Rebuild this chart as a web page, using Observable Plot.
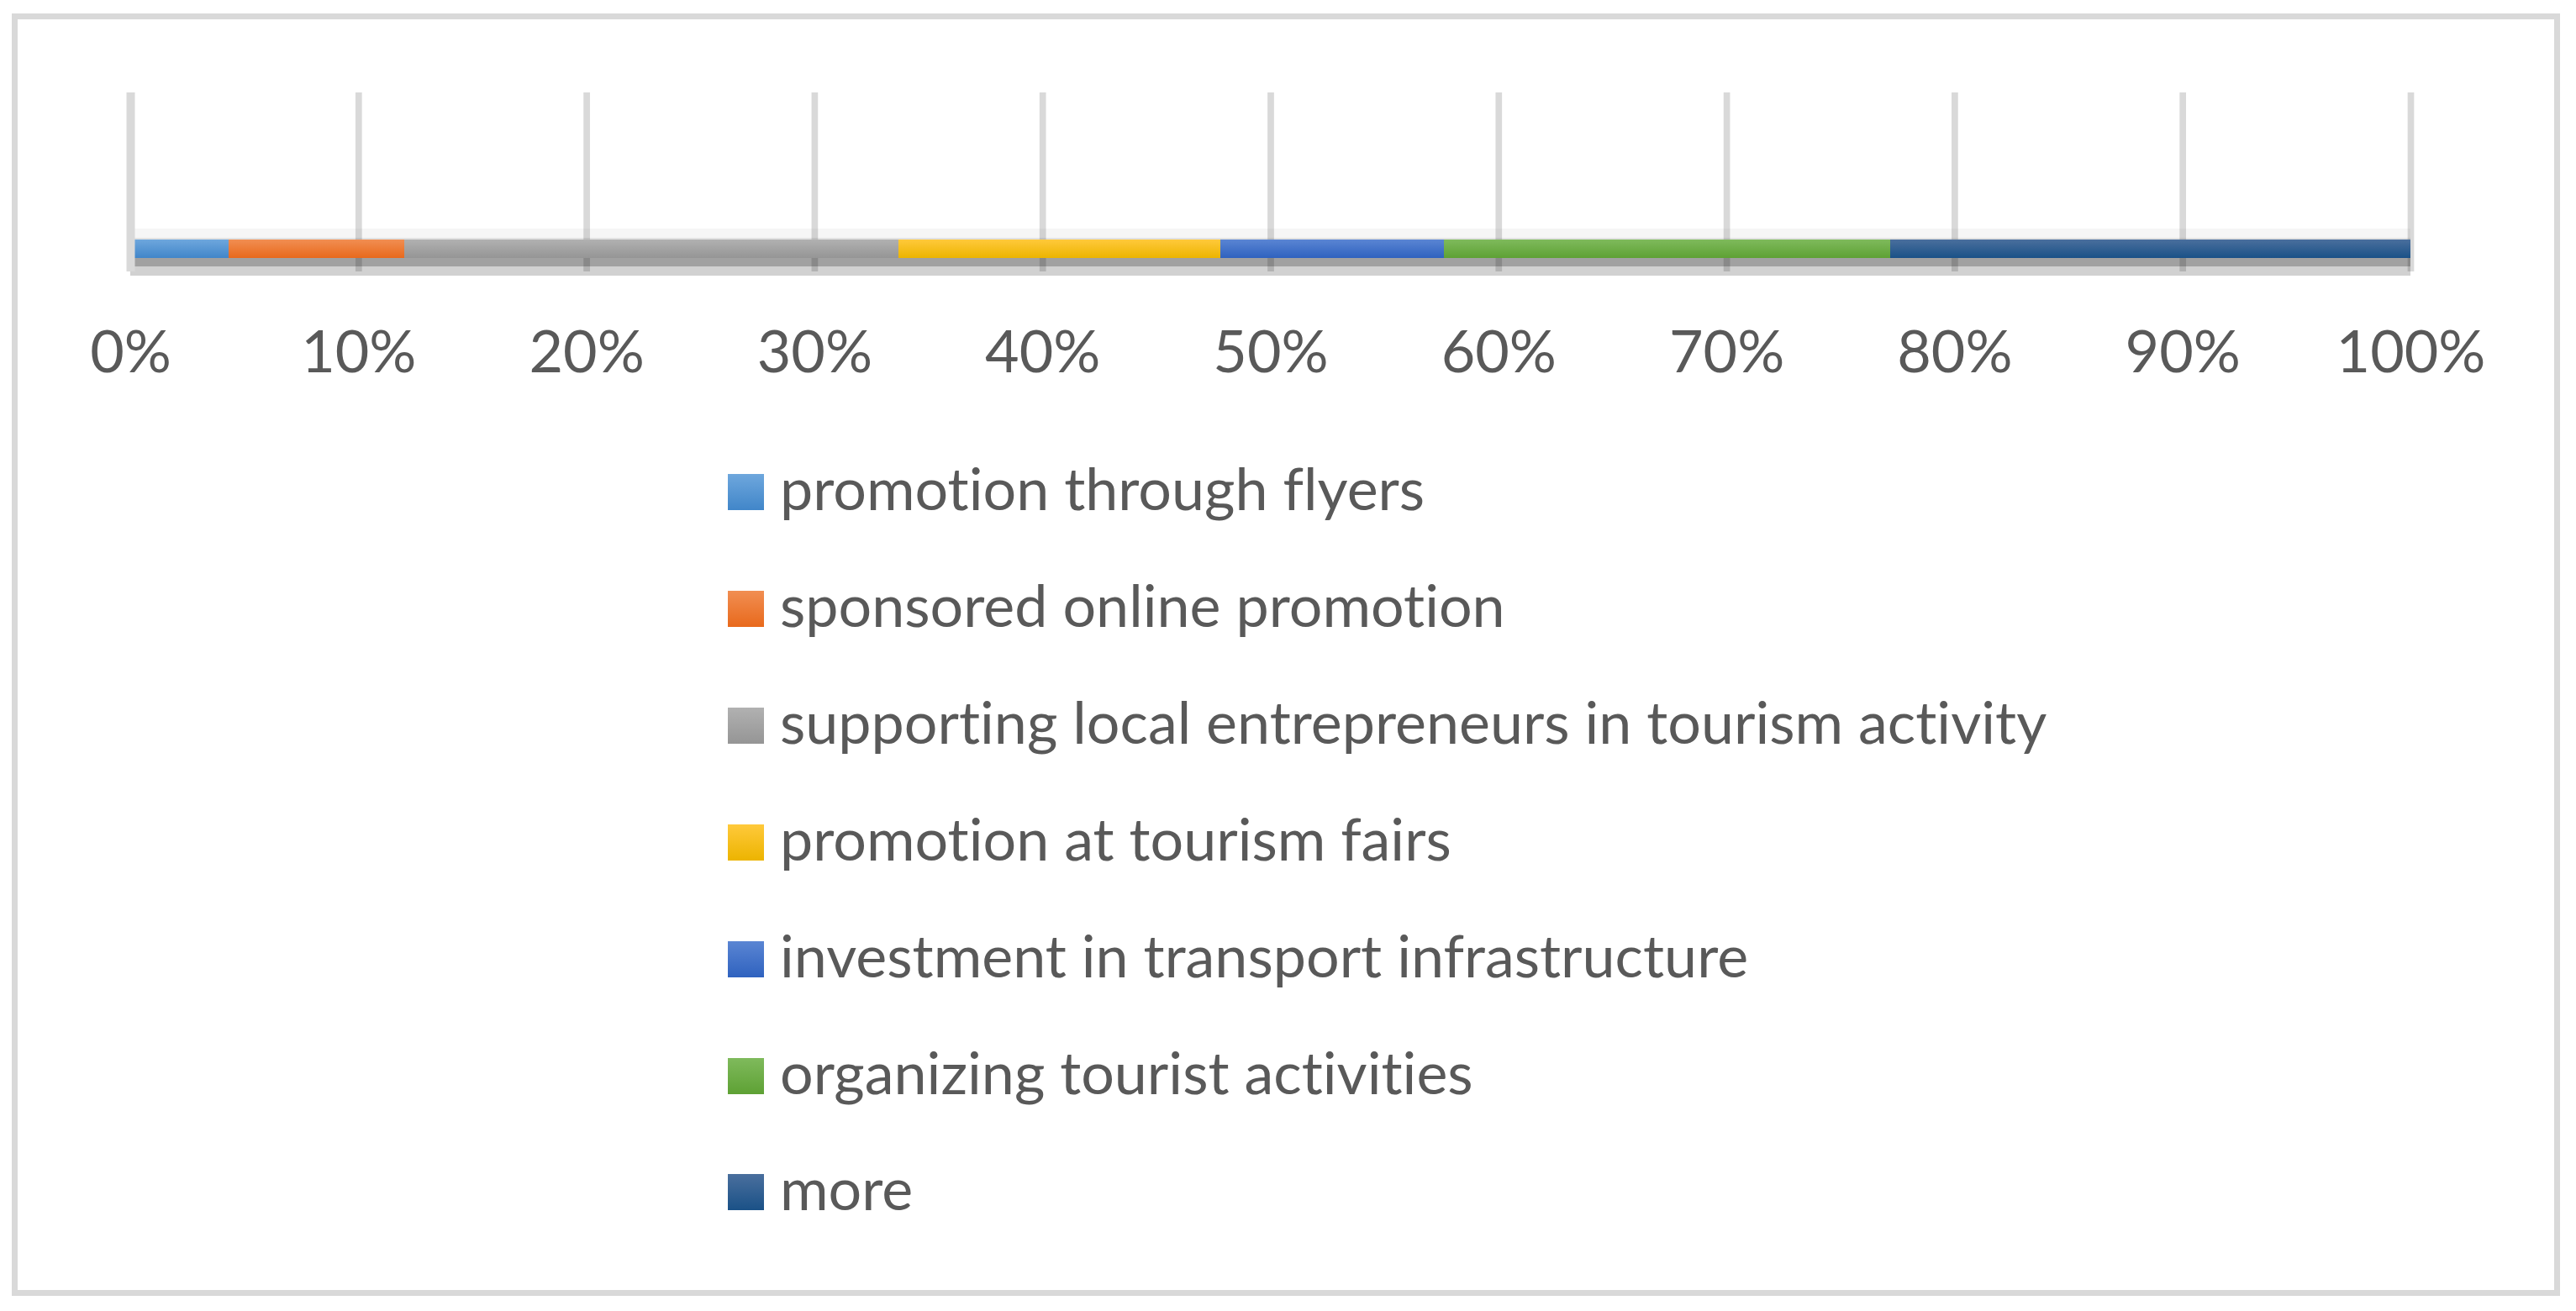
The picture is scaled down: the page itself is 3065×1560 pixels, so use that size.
<!DOCTYPE html>
<html>
<head>
<meta charset="utf-8">
<script src="https://cdn.jsdelivr.net/npm/d3@7"></script>
<script src="https://cdn.jsdelivr.net/npm/@observablehq/plot@0.6"></script>
<style>
  html, body { margin: 0; padding: 0; background: #fff; }
  #wrap { position: relative; width: 3065px; height: 1560px; overflow: hidden; font-family: Lato, sans-serif; font-variant-ligatures: none; }
  #frame { position: absolute; left: 14px; top: 16px; width: 3032px; height: 1526px; border: 7px solid #d9d9d9; box-sizing: border-box; }
  #chart { position: absolute; left: 0; top: 0; }
  .row { position: absolute; left: 866px; height: 43px; display: flex; align-items: center; white-space: nowrap; }
  .sw { width: 43px; height: 43px; flex: none; }
  .lab { margin-left: 19px; font-size: 70px; line-height: 43px; color: #595959; position: relative; top: -5px; font-variant-ligatures: none; }
</style>
</head>
<body>
<div id="wrap">
  <div id="frame"></div>
  <div id="chart"></div>
  <div id="legend"></div>
</div>
<script>
const categories = [
  "promotion through flyers",
  "sponsored online promotion",
  "supporting local entrepreneurs in tourism activity",
  "promotion at tourism fairs",
  "investment in transport infrastructure",
  "organizing tourist activities",
  "more"
];
const values = [4.3, 7.7, 21.7, 14.1, 9.8, 19.6, 22.8];
const colorsTop = ["#6ea7dd", "#f18e52", "#b1b1b1", "#ffc93b", "#5a85d3", "#7fba5c", "#4a6f9d"];
const colorsBottom = ["#4186c9", "#e8691c", "#959595", "#ecb400", "#2f62bf", "#5ea134", "#1a5187"];
const ticks = [0, 10, 20, 30, 40, 50, 60, 70, 80, 90, 100];

const data = categories.map((category, i) => ({category, value: values[i]}));
const gradIds = categories.map((c, i) => `grad${i}`);

const svg = Plot.plot({
  width: 3065,
  height: 470,
  marginLeft: 155,
  marginRight: 197,
  marginTop: 110,
  marginBottom: 147,
  style: {fontFamily: "Lato, sans-serif", fontSize: "70px", color: "#595959", background: "transparent", overflow: "visible"},
  x: {domain: [0, 100], ticks: ticks, tickFormat: d => d + "%", tickSize: 0, tickPadding: 70, label: null},
  color: {domain: categories, range: gradIds.map(id => `url(#${id})`)},
  marks: [
    Plot.ruleX(ticks.slice(1), {stroke: "#d9d9d9", strokeWidth: 7.7}),
    Plot.barX(data, Plot.stackX({x: "value", fill: "#000", fillOpacity: 0.035, insetTop: 162, insetBottom: 38, shapeRendering: "crispEdges"})),
    Plot.barX(data, Plot.stackX({x: "value", fill: "#000", fillOpacity: 0.08, insetTop: 173, insetBottom: 38, shapeRendering: "crispEdges"})),
    Plot.barX(data, Plot.stackX({x: "value", fill: "category", insetTop: 175, insetBottom: 16, shapeRendering: "crispEdges"})),
    Plot.barX(data, Plot.stackX({x: "value", fill: "#000", fillOpacity: 0.37, insetTop: 197, insetBottom: 6, shapeRendering: "crispEdges"})),
    Plot.barX(data, Plot.stackX({x: "value", fill: "#000", fillOpacity: 0.18, insetTop: 207, insetBottom: -5, shapeRendering: "crispEdges"})),
    Plot.ruleX([0], {stroke: "#d9d9d9", strokeWidth: 10})
  ]
});

const defs = d3.select(svg).insert("defs", ":first-child");
gradIds.forEach((id, i) => {
  const g = defs.append("linearGradient").attr("id", id).attr("x1", 0).attr("y1", 0).attr("x2", 0).attr("y2", 1);
  g.append("stop").attr("offset", "0%").attr("stop-color", colorsTop[i]);
  g.append("stop").attr("offset", "100%").attr("stop-color", colorsBottom[i]);
});
document.getElementById("chart").appendChild(svg);

const legend = document.getElementById("legend");
categories.forEach((c, i) => {
  const row = document.createElement("div");
  row.className = "row";
  row.style.top = (564 + i * 138.9) + "px";
  const sw = document.createElement("div");
  sw.className = "sw";
  sw.style.background = `linear-gradient(to bottom, ${colorsTop[i]}, ${colorsBottom[i]})`;
  const lab = document.createElement("span");
  lab.className = "lab";
  lab.textContent = c;
  row.appendChild(sw);
  row.appendChild(lab);
  legend.appendChild(row);
});
</script>
</body>
</html>
